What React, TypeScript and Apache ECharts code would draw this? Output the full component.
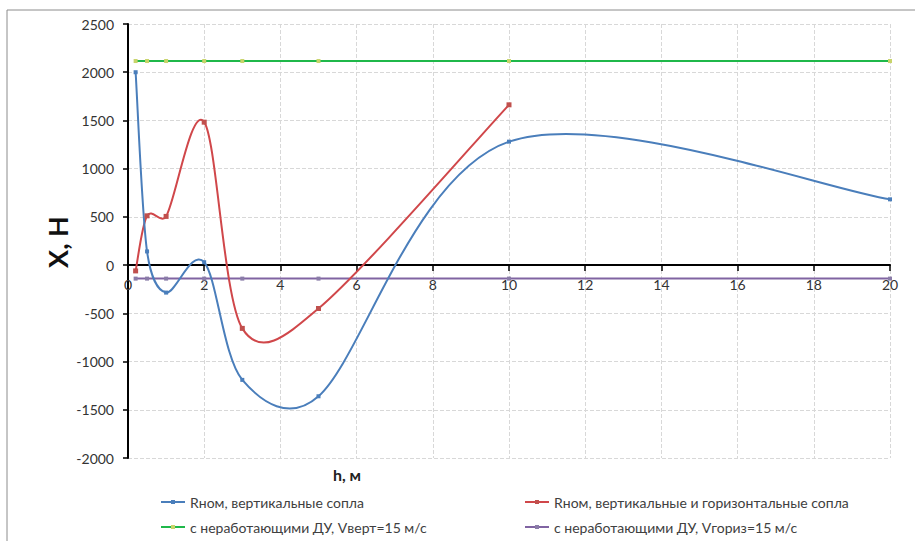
import React, { useEffect, useRef } from "react";
import * as echarts from "echarts";

const hValues = [0.2, 0.5, 1, 2, 3, 5, 10, 20];
const blueValues = [2000, 142, -285, 30, -1190, -1360, 1280, 682];
const redH = [0.2, 0.5, 1, 2, 3, 5, 10];
const redValues = [-60, 511, 505, 1482, -656, -450, 1662];
const greenValues = [2116, 2116, 2116, 2116, 2116, 2116, 2116, 2116];
const purpleValues = [-140, -140, -140, -140, -140, -140, -140, -140];

const seriesNames = [
  "Rном, вертикальные сопла",
  "Rном, вертикальные и горизонтальные сопла",
  "с неработающими ДУ, Vверт=15 м/с",
  "с неработающими ДУ, Vгориз=15 м/с",
];

const BLUE = "#4a7ebb";
const RED = "#d0474a";
const GREEN = "#1fb84a";
const PURPLE = "#8064a2";

const FONT = "Lato, 'Open Sans', 'DejaVu Sans', sans-serif";

function pairs(xs: number[], ys: number[]) {
  return xs.map((x, i) => [x, ys[i]]);
}

// Excel-like smoothed line through pixel points
function excelSmoothPath(pts: number[][]): string {
  if (pts.length < 2) return "";
  const dist = (a: number[], b: number[]) => Math.hypot(b[0] - a[0], b[1] - a[1]);
  let d = `M${pts[0][0]},${pts[0][1]}`;
  for (let i = 0; i < pts.length - 1; i++) {
    const p0 = pts[i - 1] || pts[i];
    const p1 = pts[i];
    const p2 = pts[i + 1];
    const p3 = pts[i + 2] || pts[i + 1];
    const d12 = dist(p1, p2);
    const d02 = dist(p0, p2);
    const d13 = dist(p1, p3);
    let f1 = 1 / 6;
    let f2 = 1 / 6;
    if (d02 * f1 > d12 / 2 && d02 > 0) f1 = d12 / 2 / d02;
    if (d13 * f2 > d12 / 2 && d13 > 0) f2 = d12 / 2 / d13;
    const c1x = p1[0] + (p2[0] - p0[0]) * f1;
    const c1y = p1[1] + (p2[1] - p0[1]) * f1;
    const c2x = p2[0] - (p3[0] - p1[0]) * f2;
    const c2y = p2[1] - (p3[1] - p1[1]) * f2;
    d += ` C${c1x},${c1y} ${c2x},${c2y} ${p2[0]},${p2[1]}`;
  }
  return d;
}

function smoothCurveSeries(xs: number[], ys: number[], color: string, z: number) {
  return {
    type: "custom",
    name: "__curve_" + color,
    data: pairs(xs, ys),
    encode: { x: 0, y: 1 },
    silent: true,
    z,
    renderItem: (params: any, api: any) => {
      if (params.dataIndex !== 0) return null;
      const pts = xs.map((x, i) => api.coord([x, ys[i]]));
      return {
        type: "path",
        shape: { pathData: excelSmoothPath(pts) },
        style: { fill: "none", stroke: color, lineWidth: 2 },
      };
    },
  };
}

export default function App() {
  const ref = useRef<HTMLDivElement>(null);
  useEffect(() => {
    if (!ref.current) return;
    const chart = echarts.init(ref.current, null, { renderer: "svg" });
    const legendPos = [
      { left: 155, top: 490 },
      { left: 519, top: 490 },
      { left: 155, top: 515 },
      { left: 519, top: 515 },
    ];
    const legendColors = [BLUE, RED, GREEN, PURPLE];
    const gridTop = 24;
    const gridBottom = 83;
    const gridH = 541 - gridTop - gridBottom;
    const zeroOffset = -(gridH * 2000) / 4500;
    chart.setOption({
      animation: false,
      backgroundColor: "#ffffff",
      textStyle: { fontFamily: FONT },
      grid: { left: 128, right: 25, top: gridTop, bottom: gridBottom, containLabel: false },
      xAxis: {
        type: "value",
        min: 0,
        max: 20,
        interval: 2,
        offset: zeroOffset,
        axisLine: { show: true, onZero: false, lineStyle: { color: "#000", width: 2 } },
        axisTick: { show: true, inside: false, length: 6, lineStyle: { color: "#000", width: 1.5 } },
        axisLabel: { color: "#333", fontSize: 14, margin: 12, fontFamily: FONT },
        splitLine: { show: true, lineStyle: { color: "#d8d8d8", type: "dashed", width: 1 } },
      },
      yAxis: {
        type: "value",
        min: -2000,
        max: 2500,
        interval: 500,
        axisLine: { show: true, onZero: false, lineStyle: { color: "#000", width: 2 } },
        axisTick: { show: true, length: 5, lineStyle: { color: "#000", width: 1.5 } },
        axisLabel: {
          color: "#333",
          fontSize: 14,
          margin: 14,
          fontFamily: FONT,
          formatter: (v: number) => String(v),
        },
        splitLine: { show: true, lineStyle: { color: "#d8d8d8", type: "dashed", width: 1 } },
      },
      legend: legendPos.map((p, i) => ({
        left: p.left,
        top: p.top,
        data: [
          {
            name: seriesNames[i],
            lineStyle: { color: legendColors[i], width: 2, opacity: 1 },
          },
        ],
        itemWidth: 24,
        itemHeight: 5,
        itemGap: 4,
        selectedMode: false,
        textStyle: { color: "#404040", fontSize: 14, fontFamily: FONT },
      })),
      graphic: [
        {
          type: "rect",
          shape: { x: 7, y: 10, width: 920, height: 540 },
          style: { fill: "none", stroke: "#8c8c8c", lineWidth: 1 },
          silent: true,
        },
        {
          type: "text",
          x: 347,
          y: 474,
          style: {
            text: "h, м",
            font: `bold 16px ${FONT}`,
            fill: "#222",
            align: "center",
            verticalAlign: "middle",
          },
        },
        {
          type: "text",
          x: 57,
          y: 242,
          rotation: Math.PI / 2,
          style: {
            text: "X, Н",
            font: `bold 27px ${FONT}`,
            fill: "#111",
            align: "center",
            verticalAlign: "middle",
          },
        },
      ],
      series: [
        smoothCurveSeries(hValues, blueValues, BLUE, 4),
        smoothCurveSeries(redH, redValues, RED, 3),
        {
          name: seriesNames[0],
          type: "line",
          data: pairs(hValues, blueValues),
          symbol: "rect",
          symbolSize: 4,
          lineStyle: { color: BLUE, width: 0, opacity: 0 },
          itemStyle: { color: BLUE },
          z: 5,
        },
        {
          name: seriesNames[1],
          type: "line",
          data: pairs(redH, redValues),
          symbol: "rect",
          symbolSize: 5,
          lineStyle: { color: RED, width: 0, opacity: 0 },
          itemStyle: { color: "#c0504d" },
          z: 5,
        },
        {
          name: seriesNames[2],
          type: "line",
          data: pairs(hValues, greenValues),
          symbol: "rect",
          symbolSize: 4,
          lineStyle: { color: GREEN, width: 2 },
          itemStyle: { color: "#c8d46a" },
          z: 2,
        },
        {
          name: seriesNames[3],
          type: "line",
          data: pairs(hValues, purpleValues),
          symbol: "rect",
          symbolSize: 4,
          lineStyle: { color: PURPLE, width: 2 },
          itemStyle: { color: "#8a7ca8" },
          z: 2,
        },
      ],
    });
    return () => chart.dispose();
  }, []);
  return (
    <div
      ref={ref}
      style={{ position: "fixed", left: 0, top: 0, width: 915, height: 541 }}
    />
  );
}
